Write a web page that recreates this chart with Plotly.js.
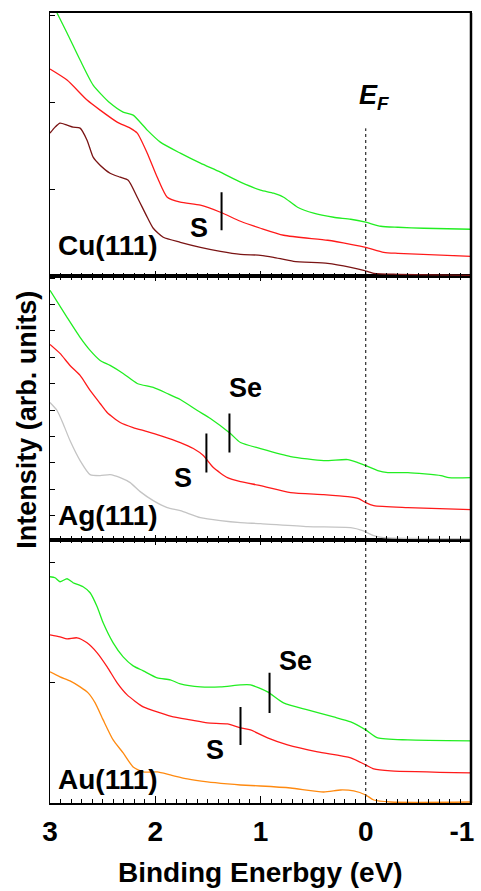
<!DOCTYPE html>
<html>
<head>
<meta charset="utf-8">
<script src="https://cdn.plot.ly/plotly-3.0.1.min.js"></script>
<style>html,body{margin:0;padding:0;background:#fff;}#chart{width:481px;height:891px;}</style>
</head>
<body>
<div id="chart"></div>
<script>
// ---- Cu(111) panel (top) ----
const cuGreenE = [3.0, 2.933, 2.838, 2.714, 2.59, 2.429, 2.305, 2.21, 2.076, 1.952, 1.762, 1.571, 1.381, 1.19, 1.0, 0.876, 0.78, 0.648, 0.495, 0.305, 0.143, 0.0, -0.143, -0.305, -0.552, -1.0];
const cuGreenI = [277, 263, 243, 216, 191, 173, 164, 161, 146, 134, 123, 113, 104, 94, 86, 83, 79, 69, 63, 59, 57, 54, 50, 49, 48, 47];
const cuRedE = [3.0, 2.838, 2.648, 2.524, 2.362, 2.238, 2.171, 2.076, 1.981, 1.886, 1.762, 1.571, 1.381, 1.19, 1.0, 0.78, 0.362, 0.143, 0.0, -0.171, -0.305, -1.0];
const cuRedI = [207, 196, 176, 166, 154, 148, 143, 123, 99, 79, 74, 71, 64, 55, 48, 41, 36, 32, 29, 24, 23, 20];
const cuCleanE = [3.0, 2.952, 2.905, 2.838, 2.781, 2.714, 2.648, 2.59, 2.524, 2.429, 2.333, 2.257, 2.171, 2.076, 2.019, 1.924, 1.762, 1.571, 1.381, 1.19, 1.0, 0.876, 0.686, 0.362, 0.143, 0.019, -0.076, -0.305, -1.0];
const cuCleanI = [143, 149, 153, 151, 149, 148, 136, 119, 111, 103, 99, 96, 79, 59, 48, 39, 34, 29, 25, 22, 21, 19, 15, 13, 9, 6, 3, 2, 1];

// ---- Ag(111) panel (middle) ----
const agGreenE = [3.0, 2.838, 2.714, 2.619, 2.524, 2.429, 2.305, 2.171, 2.019, 1.886, 1.762, 1.6, 1.476, 1.286, 1.19, 1.0, 0.714, 0.4, 0.171, 0.076, 0.0, -0.114, -0.21, -0.4, -0.714, -0.79, -1.0];
const agGreenI = [249, 222, 202, 189, 179, 174, 166, 156, 152, 146, 140, 129, 121, 106, 97, 91, 83, 79, 80, 77, 74, 69, 67, 67, 64, 62, 62];
const agRedE = [3.0, 2.905, 2.81, 2.714, 2.619, 2.524, 2.457, 2.333, 2.21, 2.076, 1.952, 1.762, 1.638, 1.543, 1.448, 1.314, 1.19, 1.0, 0.714, 0.4, 0.171, 0.067, 0.0, -0.076, -0.4, -1.0];
const agRedI = [195, 186, 174, 164, 149, 136, 127, 117, 112, 108, 104, 97, 91, 84, 72, 62, 58, 54, 47, 45, 43, 41, 37, 34, 32, 30];
const agCleanE = [3.0, 2.933, 2.876, 2.81, 2.714, 2.619, 2.524, 2.429, 2.333, 2.238, 2.143, 2.019, 1.886, 1.762, 1.571, 1.381, 1.19, 1.0, 0.552, 0.143, 0.029, -0.076, -0.171, -1.0];
const agCleanI = [137, 129, 116, 99, 79, 65, 64, 65, 62, 57, 48, 39, 32, 29, 22, 19, 17, 16, 13, 12, 9, 4, 2, 1];

// ---- Au(111) panel (bottom) ----
const auGreenE = [3.0, 2.952, 2.905, 2.838, 2.781, 2.686, 2.619, 2.552, 2.495, 2.4, 2.305, 2.21, 2.114, 1.981, 1.857, 1.762, 1.571, 1.381, 1.19, 1.095, 0.933, 0.781, 0.552, 0.305, 0.143, 0.0, -0.114, -0.4, -1.0];
const auGreenI = [226, 225, 221, 224, 220, 216, 210, 196, 180, 160, 146, 137, 132, 125, 123, 119, 116, 116, 118, 118, 111, 100, 93, 86, 81, 73, 65, 63, 62];
const auRedE = [3.0, 2.905, 2.838, 2.743, 2.648, 2.552, 2.457, 2.362, 2.267, 2.114, 1.952, 1.829, 1.667, 1.505, 1.314, 1.19, 1.095, 0.933, 0.743, 0.457, 0.143, 0.0, -0.076, -0.238, -1.0];
const auRedI = [168, 166, 164, 165, 160, 150, 136, 120, 108, 96, 90, 86, 83, 80, 79, 75, 73, 65, 58, 51, 45, 38, 34, 32, 30];
const auCleanE = [3.0, 2.905, 2.81, 2.714, 2.638, 2.571, 2.495, 2.4, 2.305, 2.21, 2.114, 1.981, 1.857, 1.695, 1.505, 1.314, 1.19, 1.0, 0.714, 0.4, 0.238, 0.114, 0.0, -0.076, -0.238, -1.0];
const auCleanI = [131, 126, 122, 116, 110, 100, 83, 63, 50, 36, 31, 31, 28, 24, 21, 19, 18, 17, 15, 11, 13, 12, 8, 3, 1, 1];

// ---- adsorbate-state markers: [energy, low, high] ----
const cuSMark = [1.37, 46, 84];
const agSMark = [1.514, 67, 106];
const agSeMark = [1.295, 87, 126];
const auSMark = [1.19, 58, 96];
const auSeMark = [0.914, 90, 130];

// ---- labels ----
const xTickVals = [3, 2, 1, 0];
const xTickText = ['3', '2', '1', '0'];
const xEdgeTickVals = [-1];
const xEdgeTickText = ['-1'];
const fermiLevel = 0;

const FONT = 'Liberation Sans, Arial, sans-serif';
const GREEN = '#22ee22', RED = '#ff1a1a', MAROON = '#7a1414', GRAY = '#c4c4c4', ORANGE = '#ff8a10';

function curve(x, y, color, xa, ya) {
  return {x: x, y: y, xaxis: xa, yaxis: ya, mode: 'lines', type: 'scatter',
    line: {color: color, width: 1.3, shape: 'spline', smoothing: 0.6}, hoverinfo: 'none', showlegend: false};
}
function mark(m, xa, ya) {
  return {x: [m[0], m[0]], y: [m[1], m[2]], xaxis: xa, yaxis: ya, mode: 'lines', type: 'scatter',
    line: {color: '#000', width: 2}, hoverinfo: 'none', showlegend: false};
}
function empty(xa, ya) {
  return {x: [], y: [], xaxis: xa, yaxis: ya, mode: 'lines', type: 'scatter', hoverinfo: 'none', showlegend: false};
}

const data = [
  curve(cuCleanE, cuCleanI, MAROON, 'x3', 'y3'),
  curve(cuRedE, cuRedI, RED, 'x3', 'y3'),
  curve(cuGreenE, cuGreenI, GREEN, 'x3', 'y3'),
  curve(agCleanE, agCleanI, GRAY, 'x2', 'y2'),
  curve(agRedE, agRedI, RED, 'x2', 'y2'),
  curve(agGreenE, agGreenI, GREEN, 'x2', 'y2'),
  curve(auCleanE, auCleanI, ORANGE, 'x', 'y'),
  curve(auRedE, auRedI, RED, 'x', 'y'),
  curve(auGreenE, auGreenI, GREEN, 'x', 'y'),
  mark(cuSMark, 'x3', 'y3'),
  mark(agSMark, 'x2', 'y2'),
  mark(agSeMark, 'x2', 'y2'),
  mark(auSMark, 'x', 'y'),
  mark(auSeMark, 'x', 'y'),
  empty('x4', 'y2'), empty('x5', 'y'), empty('x6', 'y3'), empty('x7', 'y')
];

const xr = [3, -1];
const minorT = {ticks: 'inside', dtick: 0.1, ticklen: 3.5, tickwidth: 1, tickcolor: '#000'};
function xAx(extra) {
  return Object.assign({range: xr, showline: true, linecolor: '#000', linewidth: 2,
    ticks: 'inside', ticklen: 5, tickwidth: 1.3, tickcolor: '#000', dtick: 1, tick0: 0,
    minor: Object.assign({}, minorT), showgrid: false, zeroline: false, showticklabels: false, fixedrange: true}, extra);
}
function yAx(extra) {
  return Object.assign({range: [0, 263], showline: true, linecolor: '#000', linewidth: 1, mirror: true,
    ticks: 'inside', ticklen: 5, tickwidth: 1, tickcolor: '#000', showgrid: false, zeroline: false,
    showticklabels: false, fixedrange: true}, extra);
}
const tickFont = {family: FONT, size: 28, color: '#000', weight: 'bold'};

const lbl = (txt, x, y, xa, ya, anchor, size) => ({text: '<b>' + txt + '</b>', x: x, y: y, xref: xa, yref: ya,
  showarrow: false, xanchor: anchor || 'center', yanchor: 'middle', font: {family: FONT, size: size || 27, color: '#000'}});

const layout = {
  width: 481, height: 891,
  margin: {l: 50, r: 10, t: 13, b: 88},
  paper_bgcolor: '#fff', plot_bgcolor: '#fff',
  showlegend: false,
  xaxis: xAx({anchor: 'y', ticklen: 7, showticklabels: true, tickmode: 'array',
    tickvals: xTickVals, ticktext: xTickText,
    tickfont: tickFont, ticklabelstandoff: 2,
    minor: {ticks: 'inside', dtick: 0.1, tick0: 0, ticklen: 4, tickwidth: 1, tickcolor: '#000'}}),
  xaxis7: {range: xr, anchor: 'y', overlaying: 'x', side: 'bottom', showline: false, ticks: '',
    showgrid: false, zeroline: false, showticklabels: true, tickmode: 'array',
    tickvals: xEdgeTickVals, ticktext: xEdgeTickText, tickfont: tickFont, ticklabelstandoff: 9,
    ticklabelshift: 9, ticklabeloverflow: 'allow', fixedrange: true},
  xaxis2: xAx({anchor: 'y2'}),
  xaxis3: xAx({anchor: 'y3'}),
  xaxis4: xAx({anchor: 'y2', overlaying: 'x2', side: 'top'}),
  xaxis5: xAx({anchor: 'y', overlaying: 'x', side: 'top'}),
  xaxis6: xAx({anchor: 'y3', overlaying: 'x3', side: 'top', ticks: '', minor: {ticks: ''}}),
  yaxis: yAx({anchor: 'x', domain: [0, 0.3333], tick0: 0, dtick: 120}),
  yaxis2: yAx({anchor: 'x2', domain: [0.3333, 0.6667], tick0: -2, dtick: 26.3}),
  yaxis3: yAx({anchor: 'x3', domain: [0.6667, 1], tick0: 0, dtick: 87}),
  shapes: [
    {type: 'line', xref: 'x', yref: 'paper', x0: fermiLevel, x1: fermiLevel, y0: 0, y1: 0.854,
      line: {color: '#000', width: 1, dash: 'dot'}},
    {type: 'line', xref: 'paper', yref: 'paper', x0: 1, x1: 1, y0: 0, y1: 1,
      line: {color: '#000', width: 2.5}}
  ],
  annotations: [
    lbl('Cu(111)', 2.94, 31, 'x3', 'y3', 'left', 28),
    lbl('Ag(111)', 2.94, 24, 'x2', 'y2', 'left', 28),
    lbl('Au(111)', 2.94, 23, 'x', 'y', 'left', 28),
    lbl('S', 1.58, 48, 'x3', 'y3'),
    lbl('S', 1.74, 62, 'x2', 'y2'),
    lbl('Se', 1.14, 151, 'x2', 'y2'),
    lbl('S', 1.43, 53, 'x', 'y'),
    lbl('Se', 0.67, 142, 'x', 'y'),
    {text: '<b><i>E</i><sub><i>F</i></sub></b>', x: -0.08, y: 179, xref: 'x3', yref: 'y3', showarrow: false,
      xanchor: 'center', yanchor: 'middle', font: {family: FONT, size: 27, color: '#000'}},
    {text: '<b>Binding Enerbgy (eV)</b>', x: 0.5, y: 0, xref: 'paper', yref: 'paper', yshift: -69,
      showarrow: false, xanchor: 'center', yanchor: 'middle', font: {family: FONT, size: 28, color: '#000'}},
    {text: '<b>Intensity (arb. units)</b>', x: 0, y: 0.485, xref: 'paper', yref: 'paper', xshift: -23,
      textangle: -90, showarrow: false, xanchor: 'center', yanchor: 'middle', font: {family: FONT, size: 27, color: '#000'}}
  ]
};

Plotly.newPlot('chart', data, layout, {staticPlot: true, displayModeBar: false});
</script>
</body>
</html>
